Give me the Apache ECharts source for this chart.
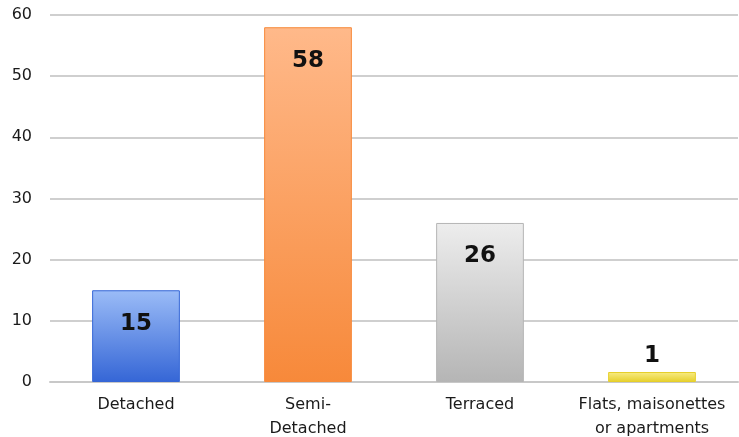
<!DOCTYPE html>
<html>
<head>
<meta charset="utf-8">
<script src="https://cdn.jsdelivr.net/npm/echarts@6/dist/echarts.min.js"></script>
<style>
  html, body { margin: 0; padding: 0; background: #fff; }
  #chart { width: 739px; height: 437px; }
</style>
</head>
<body>
<div id="chart"></div>
<script>
const categories = ["Detached", "Semi-\nDetached", "Terraced", "Flats, maisonettes\nor apartments"];
const values = [15, 58, 26, 1];
const yTicks = { min: 0, max: 60, interval: 10 };

// top/bottom colours of each bar gradient
const barColors = [
  ["#9bbcf7", "#3566d6"],
  ["#ffb98a", "#f7893a"],
  ["#ededed", "#b5b5b5"],
  ["#f8ec86", "#e6cf2a"]
];

const grad = (c) => new echarts.graphic.LinearGradient(0, 0, 0, 1, [
  { offset: 0, color: c[0] },
  { offset: 1, color: c[1] }
]);

const font = "'DejaVu Sans', sans-serif";

const chart = echarts.init(document.getElementById("chart"));
chart.setOption({
  animation: false,
  grid: { left: 50, right: 1, top: 15, bottom: 55, outerBoundsMode: "none" },
  xAxis: {
    type: "category",
    data: categories,
    axisLine: { lineStyle: { color: "#c8c8c8", width: 2 } },
    axisTick: { show: false },
    axisLabel: {
      interval: 0,
      hideOverlap: false,
      color: "#1a1a1a",
      fontSize: 16,
      fontFamily: font,
      lineHeight: 24,
      margin: 11
    }
  },
  yAxis: {
    type: "value",
    min: yTicks.min,
    max: yTicks.max,
    interval: yTicks.interval,
    axisLine: { show: false },
    axisTick: { show: false },
    splitLine: { lineStyle: { color: "#cfcfcf", width: 2 } },
    axisLabel: {
      color: "#1a1a1a",
      fontSize: 16,
      fontFamily: font,
      margin: 18
    }
  },
  series: [{
    type: "bar",
    barWidth: "51%",
    barMinHeight: 10,
    data: values.map((v, i) => ({
      value: v,
      itemStyle: { color: grad(barColors[i]), borderColor: barColors[i][1], borderWidth: 1 },
      label: i === 3
        ? { position: "top", distance: 4 }
        : { position: "insideTop", distance: 22 }
    })),
    label: {
      show: true,
      color: "#111",
      fontSize: 23,
      fontWeight: "bold",
      fontFamily: font
    }
  }]
});
</script>
</body>
</html>
